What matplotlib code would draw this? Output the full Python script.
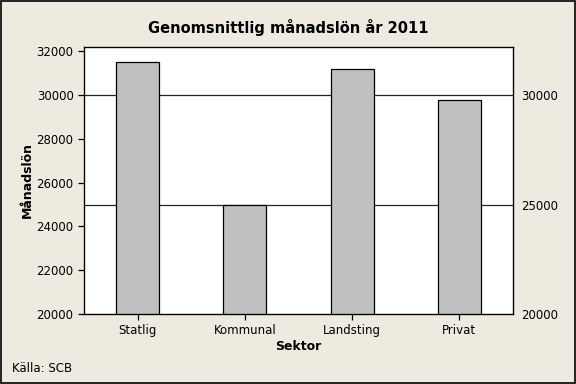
import matplotlib.pyplot as plt
from matplotlib.patches import Rectangle

# data
sektorer = ["Statlig", "Kommunal", "Landsting", "Privat"]
lon = [31500, 25000, 31200, 29800]
left_ticks = [20000, 22000, 24000, 26000, 28000, 30000, 32000]
right_ticks = [20000, 25000, 30000]
grid_lines = [25000, 30000]

bg = "#eeeae0"
plt.rcParams['font.family'] = ['DejaVu Sans']

fig = plt.figure(figsize=(5.76, 3.84), dpi=100, facecolor=bg)
ax = fig.add_axes([84/576, 1 - 314/384, (513-84)/576, (314-47)/384])
ax.set_facecolor("white")

x = range(len(sektorer))
for g in grid_lines:
    ax.axhline(g, color="#222222", linewidth=0.9, zorder=1)
ax.bar(x, lon, width=0.4, bottom=0, color="#c0c0c0", edgecolor="black",
       linewidth=0.9, zorder=2)

ax.set_xlim(-0.5, 3.5)
ax.set_ylim(20000, 32200)
ax.set_yticks(left_ticks)
ax.set_xticks(list(x))
ax.set_xticklabels(sektorer)
ax.tick_params(axis="both", labelsize=8.5, length=4, width=0.9, colors="black")

for s in ax.spines.values():
    s.set_linewidth(0.9)
    s.set_color("black")

ax2 = ax.twinx()
ax2.set_ylim(20000, 32200)
ax2.set_yticks(right_ticks)
ax2.tick_params(axis="y", labelsize=8.5, length=0, pad=6)

ax.set_xlabel("Sektor", fontsize=9, fontweight="bold", labelpad=2)
ax.set_ylabel("Månadslön", fontsize=9, fontweight="bold", labelpad=2)
fig.text(0.5, 1 - 27/384, "Genomsnittlig månadslön år 2011", ha="center",
         va="center", fontsize=10.5, fontweight="bold")
fig.text(12/576, 1 - 368/384, "Källa: SCB", ha="left", va="center", fontsize=8.5)

fig.patches.append(Rectangle((0.001, 0.002), 0.997, 0.996, transform=fig.transFigure,
                             fill=False, edgecolor="black", linewidth=1.2))

plt.savefig("out.png", dpi=100, facecolor=bg)
